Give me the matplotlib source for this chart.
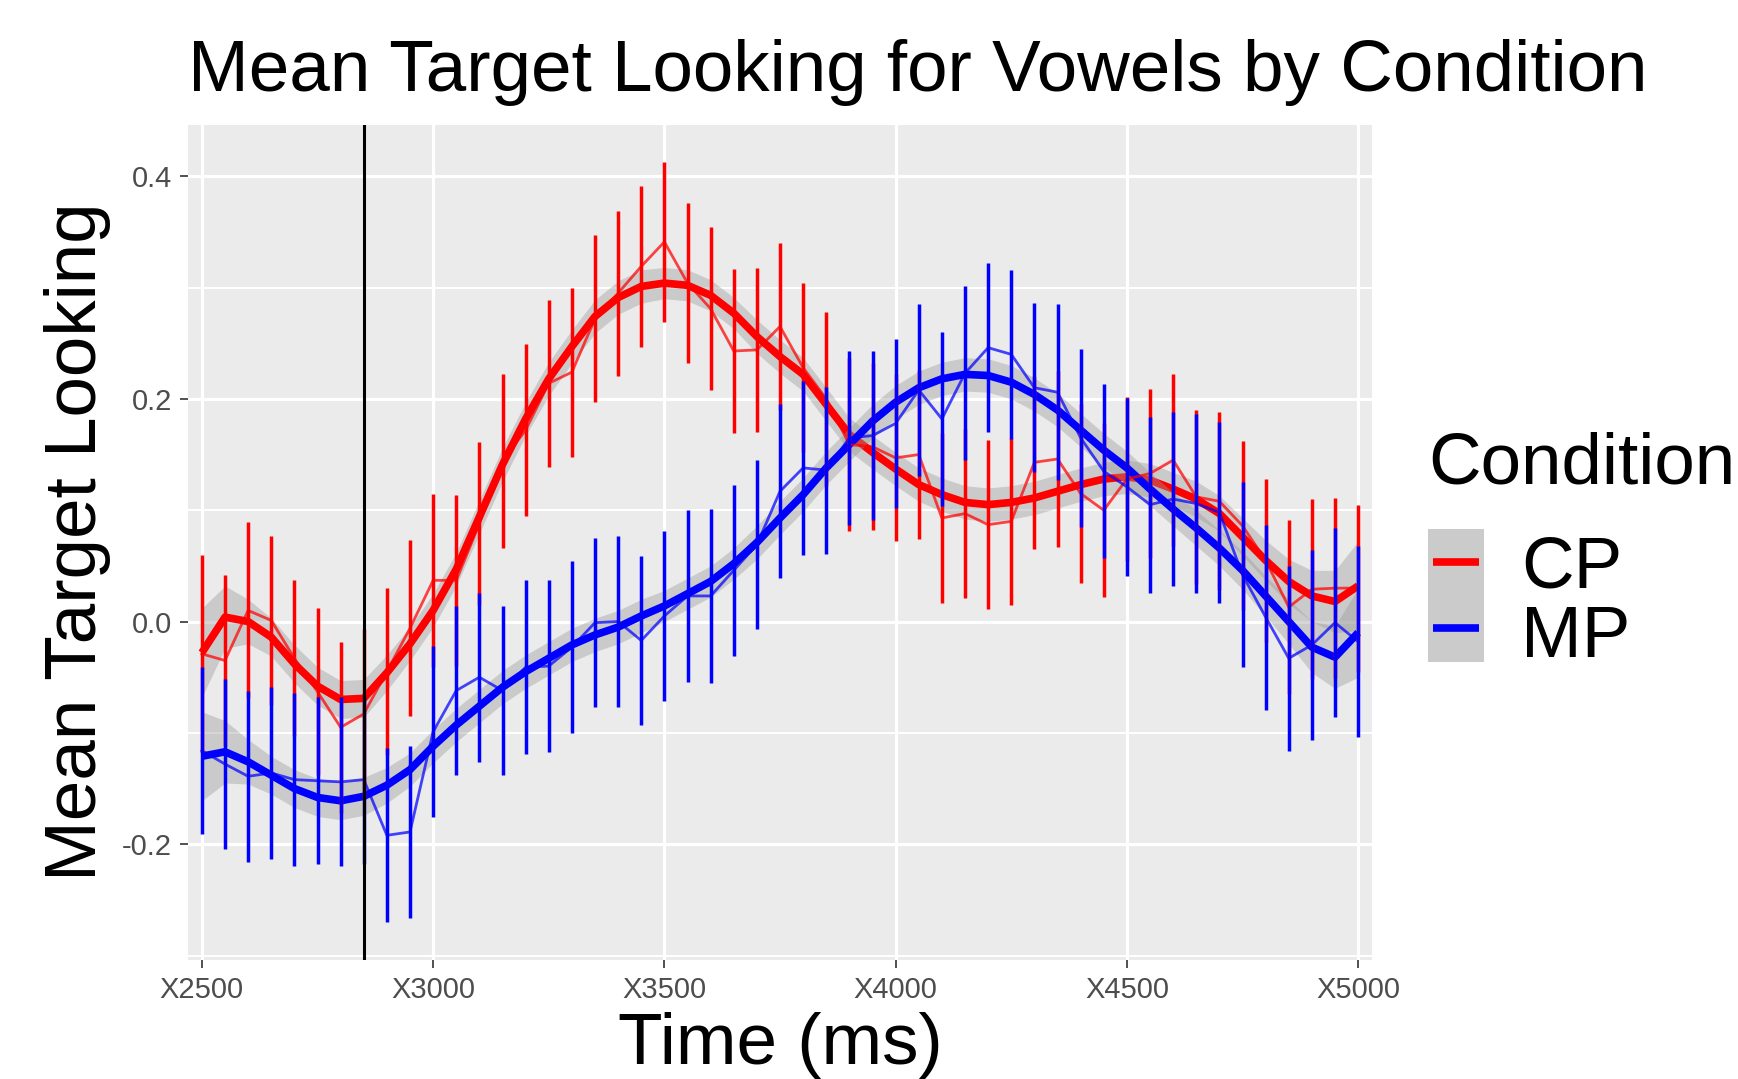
import matplotlib
matplotlib.use("Agg")
import matplotlib.pyplot as plt
from matplotlib.patches import Rectangle

plt.rcParams['font.family'] = ['Liberation Sans', 'DejaVu Sans']

# time bins (ms), one every 50 ms
time_ms = list(range(2500, 5001, 50))
tick_ms = [2500, 3000, 3500, 4000, 4500, 5000]
tick_labels = ["X2500", "X3000", "X3500", "X4000", "X4500", "X5000"]
y_ticks = [-0.2, 0.0, 0.2, 0.4]
y_labels = ["-0.2", "0.0", "0.2", "0.4"]
onset_ms = 2850

conditions = ["CP", "MP"]
colors = {"CP": "#FF0000", "MP": "#0000FF"}

# mean target looking per bin
cp_mean = [-0.029, -0.035, 0.010, 0.001, -0.033, -0.063, -0.095, -0.083, -0.045, -0.006,
           0.037, 0.037, 0.088, 0.144, 0.172, 0.214, 0.224, 0.272, 0.295, 0.319,
           0.341, 0.304, 0.281, 0.243, 0.244, 0.265, 0.228, 0.200, 0.159, 0.157,
           0.147, 0.150, 0.093, 0.097, 0.087, 0.090, 0.143, 0.146, 0.115, 0.100,
           0.128, 0.133, 0.145, 0.112, 0.108, 0.086, 0.055, 0.013, 0.029, 0.030,
           0.030]
mp_mean = [-0.116, -0.128, -0.139, -0.136, -0.142, -0.143, -0.144, -0.142, -0.192, -0.189,
           -0.099, -0.062, -0.050, -0.062, -0.041, -0.040, -0.023, -0.001, 0.000, -0.017,
           0.005, 0.023, 0.023, 0.046, 0.069, 0.117, 0.138, 0.136, 0.165, 0.167,
           0.178, 0.208, 0.182, 0.223, 0.246, 0.240, 0.210, 0.206, 0.165, 0.135,
           0.121, 0.105, 0.110, 0.106, 0.098, 0.042, 0.004, -0.033, -0.021, -0.001,
           -0.018]

# standard errors (error bar half-lengths)
cp_se = [0.089, 0.077, 0.079, 0.076, 0.070, 0.075, 0.077, 0.076, 0.075, 0.079,
         0.078, 0.077, 0.073, 0.078, 0.077, 0.075, 0.076, 0.075, 0.074, 0.072,
         0.072, 0.072, 0.073, 0.074, 0.074, 0.075, 0.076, 0.078, 0.078, 0.075,
         0.075, 0.076, 0.076, 0.076, 0.076, 0.075, 0.078, 0.079, 0.080, 0.078,
         0.074, 0.076, 0.077, 0.078, 0.080, 0.076, 0.073, 0.078, 0.081, 0.081,
         0.075]
mp_se = [0.075, 0.076, 0.077, 0.077, 0.078, 0.075, 0.076, 0.076, 0.078, 0.077,
         0.077, 0.076, 0.076, 0.076, 0.078, 0.077, 0.077, 0.076, 0.077, 0.076,
         0.076, 0.077, 0.078, 0.077, 0.076, 0.078, 0.078, 0.075, 0.078, 0.076,
         0.076, 0.077, 0.078, 0.078, 0.076, 0.076, 0.076, 0.079, 0.080, 0.078,
         0.080, 0.079, 0.078, 0.080, 0.081, 0.083, 0.083, 0.083, 0.085, 0.085,
         0.086]

# loess smooth
cp_smooth = [-0.028, 0.004, 0.000, -0.014, -0.038, -0.058, -0.070, -0.069, -0.046, -0.020,
             0.010, 0.047, 0.094, 0.141, 0.182, 0.218, 0.247, 0.274, 0.291, 0.301,
             0.304, 0.302, 0.293, 0.277, 0.256, 0.238, 0.222, 0.195, 0.168, 0.152,
             0.137, 0.123, 0.114, 0.107, 0.105, 0.107, 0.111, 0.117, 0.123, 0.128,
             0.130, 0.127, 0.119, 0.110, 0.097, 0.076, 0.055, 0.036, 0.023, 0.018,
             0.032]
mp_smooth = [-0.121, -0.117, -0.126, -0.138, -0.150, -0.158, -0.161, -0.157, -0.147, -0.133,
             -0.112, -0.093, -0.076, -0.059, -0.045, -0.033, -0.021, -0.012, -0.005, 0.005,
             0.014, 0.025, 0.036, 0.052, 0.071, 0.093, 0.114, 0.138, 0.159, 0.180,
             0.197, 0.210, 0.218, 0.222, 0.221, 0.215, 0.204, 0.190, 0.172, 0.154,
             0.138, 0.119, 0.101, 0.084, 0.066, 0.046, 0.023, 0.000, -0.023, -0.032,
             -0.010]
# half width of the smooth's confidence band
band = [0.040, 0.028, 0.020, 0.017, 0.017, 0.017, 0.017, 0.017, 0.016, 0.015,
        0.015, 0.015, 0.015, 0.015, 0.015, 0.015, 0.015, 0.015, 0.015, 0.015,
        0.014, 0.014, 0.014, 0.014, 0.015, 0.015, 0.015, 0.015, 0.015, 0.015,
        0.015, 0.015, 0.015, 0.015, 0.015, 0.015, 0.015, 0.015, 0.015, 0.015,
        0.015, 0.015, 0.015, 0.016, 0.016, 0.017, 0.018, 0.020, 0.023, 0.028,
        0.040]

W, H = 1738, 1079
fig = plt.figure(figsize=(W / 100, H / 100), dpi=100)
L, R, T, B = 188, 1372, 125, 960
ax = fig.add_axes([L / W, 1 - B / H, (R - L) / W, (B - T) / H])
ax.set_facecolor('#EBEBEB')
for s in ax.spines.values():
    s.set_visible(False)

ax.set_xlim(2470, 5030)
ax.set_ylim(-0.304, 0.446)
ax.set_xticks(tick_ms)
ax.set_xticklabels(tick_labels)
ax.set_yticks(y_ticks)
ax.set_yticklabels(y_labels)
ax.set_yticks([-0.3, -0.1, 0.1, 0.3], minor=True)
ax.grid(which='major', color='white', lw=2.3)
ax.grid(which='minor', axis='y', color='white', lw=1.5)
ax.set_axisbelow(True)
ax.tick_params(which='major', length=5.5, width=1.2, color='#333333',
               labelcolor='#4D4D4D', labelsize=21, pad=6)
ax.tick_params(which='minor', length=0)

series = {"CP": (cp_mean, cp_se, cp_smooth), "MP": (mp_mean, mp_se, mp_smooth)}
z = 2
for c in conditions:
    m, se, sm = series[c]
    lo = [a - b for a, b in zip(sm, band)]
    hi = [a + b for a, b in zip(sm, band)]
    ax.fill_between(time_ms, lo, hi, color='#999999', alpha=0.4, lw=0, zorder=z)
    ax.plot(time_ms, sm, color=colors[c], lw=5.5, solid_capstyle='butt', zorder=z + 0.5)
    z += 1
for c in conditions:
    m, se, sm = series[c]
    ax.plot(time_ms, m, color=colors[c], lw=2.0, alpha=0.72, zorder=5)
for c in conditions:
    m, se, sm = series[c]
    ax.vlines(time_ms, [a - b for a, b in zip(m, se)], [a + b for a, b in zip(m, se)],
              color=colors[c], lw=2.5, zorder=6)
ax.axvline(onset_ms, color='black', lw=2.2, zorder=7)

# titles
fs = 52.5
fig.text(L / W, 1 - 91 / H, "Mean Target Looking for Vowels by Condition",
         fontsize=fs, ha='left', va='baseline')
fig.text(78 / W, 1 - 542 / H, "Mean Target Looking", fontsize=fs,
         rotation=90, ha='center', va='center')
fig.text((L + R) / 2 / W, 1 - 1064 / H, "Time (ms)", fontsize=fs,
         ha='center', va='baseline')

# legend
lax = fig.add_axes([0, 0, 1, 1])
lax.set_xlim(0, W)
lax.set_ylim(H, 0)
lax.axis('off')
lax.patch.set_alpha(0)
lax.add_patch(Rectangle((1428, 529), 56, 133, color='#CBCBCB', lw=0))
lax.text(1428, 484, "Condition", fontsize=fs, ha='left', va='baseline')
for c, yk, yb in [("CP", 562, 587), ("MP", 628, 657)]:
    lax.plot([1433, 1479], [yk, yk], color=colors[c], lw=5.5, solid_capstyle='butt')
    lax.text(1521, yb, c, fontsize=fs, ha='left', va='baseline')

fig.savefig("out.png", dpi=100)
